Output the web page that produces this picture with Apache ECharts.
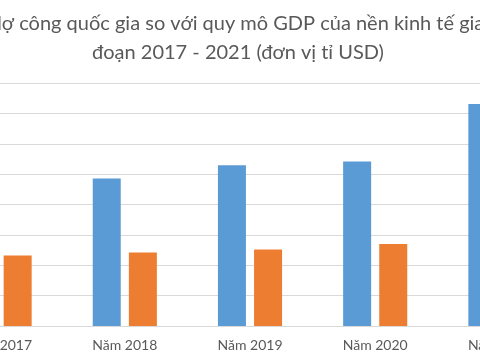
<!DOCTYPE html>
<html>
<head>
<meta charset="utf-8">
<script src="https://cdn.jsdelivr.net/npm/echarts@6/dist/echarts.min.js"></script>
<style>
html,body{margin:0;padding:0;background:#fff;width:480px;height:360px;overflow:hidden;position:relative}
#c{position:absolute;left:-62.6px;top:0;width:626.2px;height:360px}
</style>
</head>
<body>
<div id="c"></div>
<script>
const categories = ['Năm 2017', 'Năm 2018', 'Năm 2019', 'Năm 2020', 'Năm 2021'];
const gdpValues = [224, 243, 265, 271, 366];
const debtValues = [116, 121, 126, 135, 143];
const titleLines = ['Nợ công quốc gia so với quy mô GDP của nền kinh tế giai', 'đoạn 2017 - 2021 (đơn vị tỉ USD)'];

const chart = echarts.init(document.getElementById('c'));
chart.setOption({
  animation: false,
  backgroundColor: '#ffffff',
  title: {
    text: titleLines.join('\n'),
    left: 301,
    textAlign: 'center',
    top: 9,
    padding: 0,
    textStyle: {
      fontFamily: 'Lato',
      fontSize: 20,
      fontWeight: 'normal',
      color: '#595959',
      lineHeight: 29
    }
  },
  grid: {
    left: 0,
    right: 0,
    top: 83.3,
    bottom: 34,
    containLabel: false
  },
  xAxis: {
    type: 'category',
    data: categories,
    axisLine: { lineStyle: { color: '#d9d9d9', width: 1 } },
    axisTick: { show: false },
    axisLabel: {
      fontFamily: 'Lato',
      fontSize: 14,
      color: '#595959',
      margin: 12
    }
  },
  yAxis: {
    type: 'value',
    min: 0,
    max: 400,
    interval: 50,
    axisLabel: { show: false },
    axisLine: { show: false },
    axisTick: { show: false },
    splitLine: { lineStyle: { color: '#d9d9d9', width: 1 } }
  },
  series: [
    {
      name: 'Quy mô GDP',
      type: 'bar',
      data: gdpValues,
      barWidth: 28,
      barGap: '29%',
      itemStyle: { color: '#5b9bd5' }
    },
    {
      name: 'Nợ công',
      type: 'bar',
      data: debtValues,
      barWidth: 28,
      itemStyle: { color: '#ed7d31' }
    }
  ]
});
</script>
</body>
</html>
